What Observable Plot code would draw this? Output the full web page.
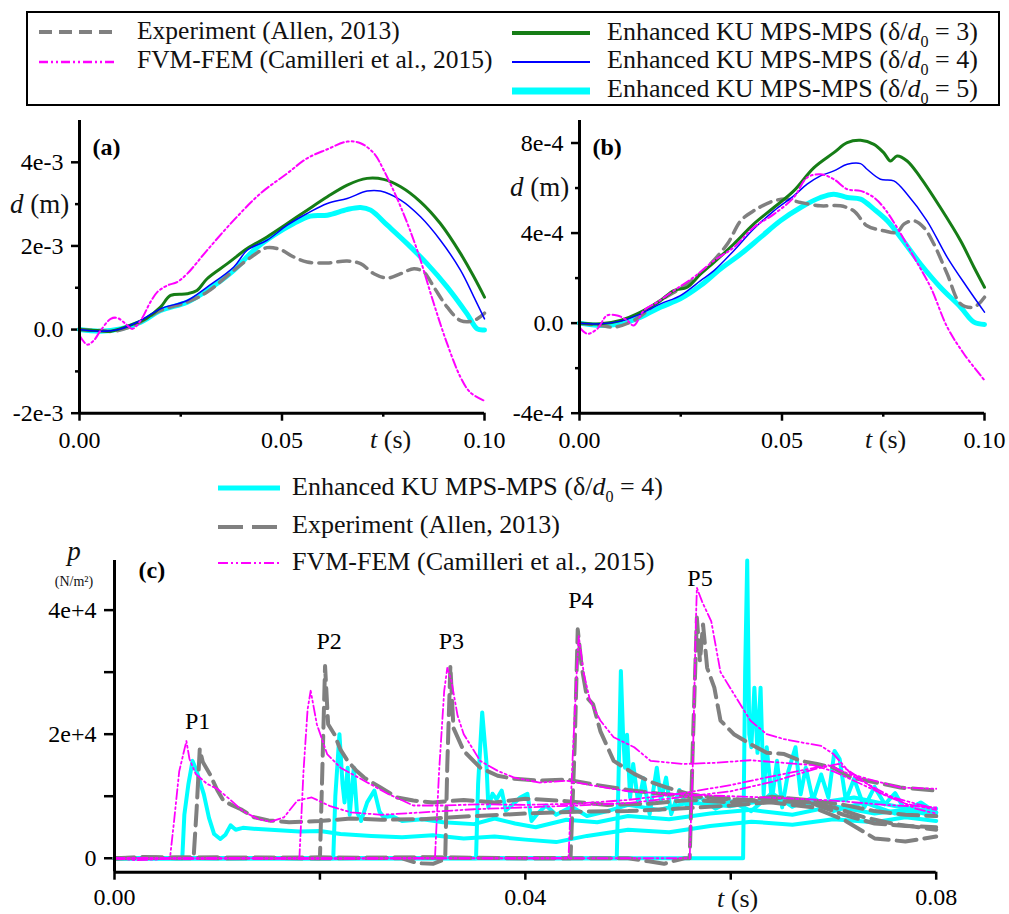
<!DOCTYPE html>
<html><head><meta charset="utf-8">
<script src="https://cdn.jsdelivr.net/npm/d3@7"></script>
<script src="https://cdn.jsdelivr.net/npm/@observablehq/plot@0.6"></script>
<style>
body{margin:0;background:#fff}
#root{position:relative;width:1009px;height:914px;overflow:hidden;background:#fff}
#root > svg{position:absolute}
</style></head><body><div id="root"></div>
<script>
// ---------- Panel (a): mid-span deflection d (m) vs t (s) ----------
const aExp = [[0,0],[0.0052,-0.000024],[0.0085,-0.00004],[0.0134,0.000096],[0.02,0.000456],[0.0266,0.000656],[0.0315,0.000896],[0.0381,0.001416],[0.043,0.001776],[0.0463,0.00196],[0.0496,0.001912],[0.0529,0.001736],[0.0562,0.001616],[0.0612,0.001592],[0.0661,0.00164],[0.0694,0.001576],[0.0727,0.001336],[0.076,0.001232],[0.0793,0.001336],[0.0826,0.001456],[0.085,0.001376],[0.0875,0.001016],[0.0908,0.000536],[0.0941,0.000216],[0.0974,0.000216],[0.1,0.000392]];
const aFvm = [[0,-0.000144],[0.0019,-0.00036],[0.0035,-0.000264],[0.0052,-0.000024],[0.0077,0.000256],[0.0093,0.00028],[0.0114,0.000136],[0.013,0.000016],[0.0151,0.000216],[0.0175,0.000656],[0.0192,0.000896],[0.0217,0.001056],[0.0241,0.001136],[0.0266,0.001336],[0.0315,0.001896],[0.0381,0.002616],[0.0447,0.003256],[0.0513,0.003736],[0.0562,0.004096],[0.0612,0.004312],[0.0661,0.004496],[0.0694,0.004456],[0.0727,0.004216],[0.0751,0.003816],[0.0793,0.002936],[0.0834,0.001896],[0.0875,0.000616],[0.0908,-0.000344],[0.0941,-0.001144],[0.0965,-0.001504],[0.1,-0.001704]];
const aKU3 = [[0,0],[0.0044,-0.000024],[0.0077,-0.00004],[0.0134,0.000136],[0.0167,0.00028],[0.02,0.000536],[0.0225,0.000816],[0.0266,0.000856],[0.029,0.000936],[0.0315,0.001216],[0.0365,0.001576],[0.0414,0.001936],[0.0463,0.002216],[0.0513,0.002536],[0.0562,0.002856],[0.0612,0.003176],[0.0661,0.003456],[0.071,0.003616],[0.0751,0.003592],[0.0793,0.003416],[0.0842,0.003056],[0.0891,0.002536],[0.0941,0.001816],[0.0974,0.001256],[0.1,0.000776]];
const aKU4 = [[0,0],[0.0052,-0.00004],[0.0101,0.000016],[0.0151,0.000216],[0.02,0.000496],[0.0266,0.000696],[0.0315,0.001016],[0.0381,0.001496],[0.0414,0.001896],[0.0463,0.002136],[0.0513,0.002496],[0.0562,0.002776],[0.0612,0.003016],[0.0661,0.003136],[0.071,0.003312],[0.0743,0.003312],[0.0793,0.003096],[0.0842,0.002696],[0.0891,0.002136],[0.0941,0.001416],[0.0974,0.000776],[0.1,0.000256]];
const aKU5 = [[0,0],[0.0052,-0.00004],[0.0101,0.000016],[0.0151,0.000176],[0.02,0.000456],[0.0266,0.000656],[0.0315,0.000936],[0.0381,0.001416],[0.043,0.001896],[0.048,0.002256],[0.0529,0.002536],[0.057,0.002712],[0.0612,0.002736],[0.0661,0.002872],[0.0694,0.00292],[0.0719,0.002856],[0.076,0.002496],[0.0809,0.002056],[0.0858,0.001576],[0.0908,0.001016],[0.0957,0.000376],[0.0982,0.000016],[0.1,-0.000008]];

// ---------- Panel (b) ----------
const bExp = [[0,0],[0.0052,-0.0000103],[0.0085,-0.0000177],[0.0134,0.0000118],[0.02,0.0001004],[0.0266,0.0001742],[0.0315,0.000248],[0.0365,0.0003513],[0.0398,0.0004546],[0.043,0.0004989],[0.048,0.0005432],[0.0513,0.0005505],[0.0546,0.0005358],[0.0595,0.000521],[0.0644,0.000521],[0.0677,0.0004989],[0.071,0.0004325],[0.0751,0.0004103],[0.0784,0.000403],[0.0801,0.0004398],[0.0826,0.0004546],[0.085,0.0004251],[0.0875,0.0003513],[0.0908,0.0002184],[0.0941,0.0000856],[0.0974,0.0000708],[0.1,0.0001151]];
const bFvm = [[0,-0.0000177],[0.0019,-0.0000472],[0.0044,-0.0000251],[0.0068,0.000034],[0.0093,0.000034],[0.0118,0.0000118],[0.0134,-0.0000103],[0.0159,0.0000561],[0.0192,0.000093],[0.0233,0.0001446],[0.0282,0.0002037],[0.0332,0.0002775],[0.0381,0.0003365],[0.043,0.0004251],[0.048,0.0004841],[0.0529,0.0005579],[0.0562,0.0006465],[0.0595,0.0006612],[0.0628,0.0006391],[0.0661,0.0005948],[0.0694,0.0005874],[0.0727,0.0005579],[0.0751,0.0005136],[0.0784,0.0004251],[0.0826,0.0002922],[0.0867,0.0001594],[0.0908,-0.0000177],[0.0949,-0.0001358],[0.1,-0.0002539]];
const bKU3 = [[0,0],[0.0052,-0.000003],[0.0101,0.0000118],[0.0151,0.0000487],[0.02,0.0001004],[0.0233,0.0001446],[0.0266,0.0001594],[0.0299,0.0002184],[0.0332,0.0002701],[0.0381,0.0003513],[0.043,0.0004398],[0.048,0.0005136],[0.0529,0.0005874],[0.0579,0.0006908],[0.0628,0.0007572],[0.0661,0.0008015],[0.0694,0.0008118],[0.0727,0.0007941],[0.0751,0.0007572],[0.0768,0.0007203],[0.0784,0.0007424],[0.0809,0.0007203],[0.0842,0.0006465],[0.0891,0.0005136],[0.0941,0.000366],[0.0974,0.000248],[0.1,0.0001594]];
const bKU4 = [[0,0],[0.0052,-0.000003],[0.0101,0.0000089],[0.0151,0.0000413],[0.02,0.0000856],[0.0249,0.0001225],[0.0299,0.0001889],[0.0332,0.0002332],[0.0381,0.0003218],[0.043,0.0004177],[0.048,0.0004989],[0.0529,0.0005653],[0.0562,0.000617],[0.0595,0.0006539],[0.0628,0.000676],[0.0661,0.0007055],[0.0694,0.0007085],[0.071,0.0006834],[0.0743,0.0006391],[0.0776,0.0006317],[0.0809,0.0005727],[0.0858,0.0004546],[0.0908,0.0002922],[0.0957,0.0001594],[0.1,0.0000487]];
const bKU5 = [[0,0],[0.0052,-0.0000103],[0.0101,-0.000003],[0.0151,0.0000266],[0.02,0.0000708],[0.0249,0.0001077],[0.0299,0.0001668],[0.0348,0.0002406],[0.0398,0.000307],[0.0447,0.0003808],[0.0496,0.0004546],[0.0546,0.0005136],[0.0595,0.0005579],[0.0628,0.0005727],[0.0661,0.0005579],[0.0694,0.0005505],[0.0727,0.0005063],[0.076,0.0004546],[0.0793,0.0003808],[0.0842,0.0002627],[0.0891,0.0001594],[0.0941,0.0000708],[0.0974,0.0000044],[0.1,-0.0000059]];

// ---------- Panel (c): pressure p (N/m2) at sensors P1..P5 ----------
const cKU_P1 = [[0,0],[0.0066,0],[0.0068,7000],[0.0072,12000],[0.0076,15700],[0.008,14000],[0.0087,10300],[0.0092,6500],[0.0097,3900],[0.0103,3100],[0.0108,3800],[0.0113,5300],[0.0118,4600],[0.0125,4900],[0.014,4700],[0.016,4500],[0.018,4300],[0.02,4400],[0.022,3900],[0.025,3600],[0.028,3400],[0.031,3700],[0.034,3200],[0.037,3500],[0.04,3000],[0.043,2600],[0.046,3600],[0.05,4600],[0.054,4200],[0.058,5200],[0.062,5900],[0.066,5400],[0.07,6300],[0.074,5800],[0.077,6600],[0.08,6000]];
const cKU_P2 = [[0,0],[0.0213,0],[0.0215,10000],[0.0219,20000],[0.0222,12000],[0.0224,9000],[0.0227,14600],[0.0229,7000],[0.0233,14600],[0.0236,7500],[0.024,6000],[0.0246,9000],[0.0253,10900],[0.0258,7500],[0.0262,6600],[0.027,6800],[0.028,6000],[0.03,6300],[0.032,5800],[0.035,5500],[0.037,6400],[0.039,5600],[0.041,5000],[0.044,6200],[0.047,5800],[0.05,6800],[0.054,6300],[0.058,7200],[0.062,7800],[0.066,7000],[0.07,8400],[0.074,7200],[0.077,7800],[0.08,6800]];
const cKU_P3 = [[0,0],[0.0352,0],[0.0354,12000],[0.0358,23500],[0.0362,15700],[0.0364,8200],[0.0368,10400],[0.0372,9500],[0.0377,10900],[0.0381,7700],[0.0388,8700],[0.0395,9800],[0.0402,10400],[0.0406,6000],[0.0412,7200],[0.042,8500],[0.043,7000],[0.0445,8300],[0.046,6800],[0.048,7600],[0.05,8600],[0.053,7800],[0.056,9000],[0.06,8400],[0.064,9500],[0.068,8800],[0.072,9800],[0.076,8400],[0.08,7400]];
const cKU_P4 = [[0,0],[0.0489,0],[0.0491,15000],[0.0493,30200],[0.0495,20500],[0.0497,14600],[0.0499,19900],[0.0502,9800],[0.0505,15200],[0.051,8700],[0.0515,12900],[0.0521,7100],[0.0528,14600],[0.0532,9300],[0.0537,13000],[0.0542,7100],[0.055,11000],[0.0558,8200],[0.057,9800],[0.0585,8000],[0.06,9200],[0.062,7600],[0.064,10500],[0.066,8300],[0.068,9800],[0.07,7600],[0.073,9000],[0.076,7200],[0.08,8000]];
const cKU_P5 = [[0,0],[0.0612,0],[0.0614,30000],[0.0616,48000],[0.0618,20000],[0.062,17900],[0.0623,27500],[0.0626,17000],[0.0629,27500],[0.0632,10300],[0.0635,17900],[0.064,9300],[0.0645,15700],[0.065,8200],[0.0656,14000],[0.0663,17900],[0.0668,10300],[0.0673,14600],[0.068,9300],[0.0688,13500],[0.0695,9800],[0.0701,17300],[0.0706,16000],[0.0712,9300],[0.072,12800],[0.073,8200],[0.074,11500],[0.075,8700],[0.076,10500],[0.077,7600],[0.0785,9000],[0.08,7300]];

const cExp_P1 = [[0,0],[0.003,200],[0.006,0],[0.0077,0],[0.008,8000],[0.0083,17600],[0.0086,15500],[0.0093,13500],[0.01,11000],[0.0106,9300],[0.0115,8500],[0.0123,7900],[0.0136,6600],[0.015,6100],[0.017,5800],[0.02,6000],[0.023,6400],[0.026,6200],[0.03,6300],[0.035,6800],[0.04,7200],[0.045,7500],[0.05,7600],[0.055,8000],[0.06,8500],[0.065,9200],[0.068,8800],[0.071,7000],[0.074,5600],[0.077,5200],[0.08,5000]];
const cExp_P2 = [[0,0],[0.004,150],[0.01,0],[0.016,100],[0.02,0],[0.0202,12000],[0.0205,31000],[0.0208,21600],[0.0214,20000],[0.022,17500],[0.0227,15700],[0.0235,14200],[0.0243,13000],[0.0259,11400],[0.0275,9800],[0.0291,9300],[0.031,9000],[0.034,9400],[0.037,9000],[0.04,9600],[0.044,9200],[0.048,8600],[0.052,8800],[0.056,9400],[0.06,9000],[0.064,9900],[0.068,9300],[0.071,8600],[0.074,7600],[0.077,7000],[0.08,6800]];
const cExp_P3 = [[0,0],[0.006,100],[0.012,0],[0.02,150],[0.028,0],[0.0295,-800],[0.031,-900],[0.0318,-400],[0.0322,0],[0.0324,15000],[0.0327,31000],[0.033,21000],[0.034,17300],[0.0356,14600],[0.0373,13300],[0.0389,12800],[0.0414,12500],[0.044,12700],[0.047,11800],[0.05,11000],[0.053,10400],[0.056,10000],[0.06,9600],[0.064,9000],[0.068,8200],[0.071,6200],[0.074,3200],[0.077,2700],[0.08,3500]];
const cExp_P4 = [[0,0],[0.01,100],[0.02,0],[0.03,150],[0.04,0],[0.0444,0],[0.0448,18000],[0.0451,36900],[0.0455,30700],[0.046,25900],[0.0466,24800],[0.0473,20500],[0.0486,15700],[0.0506,13600],[0.0522,12300],[0.0538,11400],[0.0558,10400],[0.0587,9600],[0.062,9300],[0.065,9800],[0.068,8900],[0.07,8200],[0.073,6600],[0.076,5500],[0.08,4600]];
const cExp_P5 = [[0,0],[0.01,100],[0.02,0],[0.03,100],[0.04,0],[0.05,0],[0.052,-500],[0.0535,-900],[0.0545,-400],[0.0555,0],[0.056,0],[0.0563,18000],[0.0567,38800],[0.057,31800],[0.0573,37700],[0.0577,30700],[0.0584,27500],[0.059,22200],[0.0603,20000],[0.0619,18400],[0.0635,17000],[0.0652,16800],[0.0668,15700],[0.0684,15200],[0.07,14600],[0.0717,13000],[0.0733,12500],[0.0765,11400],[0.08,10900]];

const cFvm_P1 = [[0,0],[0.002,-300],[0.004,-200],[0.0054,0],[0.0058,6000],[0.0063,14000],[0.007,18900],[0.0073,16000],[0.0079,13600],[0.009,12000],[0.01,11200],[0.0113,9400],[0.0125,7600],[0.014,6300],[0.0152,5900],[0.0165,6600],[0.0178,9300],[0.0192,9800],[0.021,8400],[0.023,7400],[0.026,7000],[0.03,7400],[0.035,7900],[0.04,8200],[0.045,8500],[0.05,8900],[0.055,9800],[0.06,10800],[0.064,12300],[0.068,14300],[0.0705,15200],[0.0725,13000],[0.0745,10500],[0.077,8800],[0.08,7800]];
const cFvm_P2 = [[0,0],[0.008,-100],[0.012,0],[0.018,0],[0.0184,14000],[0.0188,24000],[0.0191,27000],[0.0197,21600],[0.0207,16800],[0.022,14600],[0.0243,12500],[0.0266,10400],[0.0291,8500],[0.032,8500],[0.0356,8700],[0.04,8600],[0.045,8800],[0.05,9400],[0.055,10400],[0.06,11800],[0.064,13200],[0.067,14200],[0.0695,15000],[0.0715,13600],[0.0735,11800],[0.076,9600],[0.078,8000],[0.08,7200]];
const cFvm_P3 = [[0,0],[0.01,0],[0.02,-100],[0.03,0],[0.0312,0],[0.0316,14000],[0.0321,27000],[0.0324,30700],[0.0328,28600],[0.0334,23000],[0.034,20000],[0.0356,15700],[0.0373,14100],[0.0389,13000],[0.0414,12200],[0.044,12500],[0.047,11600],[0.05,10800],[0.055,10300],[0.06,10000],[0.065,9700],[0.07,9300],[0.075,8600],[0.08,8200]];
const cFvm_P4 = [[0,0],[0.02,0],[0.04,0],[0.0442,0],[0.0446,16000],[0.045,30000],[0.0452,35800],[0.0457,29700],[0.0463,25400],[0.0473,22200],[0.0486,19500],[0.0506,17900],[0.0522,15700],[0.0554,15200],[0.0587,15400],[0.0619,15800],[0.065,15400],[0.068,15000],[0.07,14000],[0.072,12500],[0.075,10200],[0.078,8800],[0.08,8000]];
const cFvm_P5 = [[0,0],[0.02,0],[0.04,0],[0.056,0],[0.0563,15000],[0.0566,38000],[0.0567,43600],[0.0572,41400],[0.0581,38200],[0.059,30000],[0.0603,26500],[0.0619,22200],[0.0635,20000],[0.0652,19200],[0.0668,18700],[0.0688,18100],[0.07,16800],[0.0717,13600],[0.0733,12800],[0.0765,11400],[0.08,11200]];

// ---------- ticks & labels ----------
const abXTicks = [0, 0.05, 0.1];
const abXLabels = ["0.00", "0.05", "0.10"];
const abXMinor = [0.025, 0.075];
const aYTicks = [-0.002, 0, 0.002, 0.004];
const aYLabels = ["-2e-3", "0.0", "2e-3", "4e-3"];
const aYMinor = [-0.001, 0.001, 0.003];
const bYTicks = [-0.0004, 0, 0.0004, 0.0008];
const bYLabels = ["-4e-4", "0.0", "4e-4", "8e-4"];
const bYMinor = [-0.0002, 0.0002, 0.0006];
const cXTicks = [0, 0.04, 0.08];
const cXLabels = ["0.00", "0.04", "0.08"];
const cXMinor = [0.02, 0.06];
const cYTicks = [0, 20000, 40000];
const cYLabels = ["0", "2e+4", "4e+4"];
const cYMinor = [10000, 30000];
const peakNames = ["P1", "P2", "P3", "P4", "P5"];
const peakT = [0.0081, 0.0209, 0.0328, 0.0454, 0.057];
const peakP = [22150, 35000, 35000, 41600, 45200];

const legendExp = "Experiment (Allen, 2013)";
const legendFvm = "FVM-FEM (Camilleri et al., 2015)";
const legendKU = "Enhanced KU MPS-MPS (δ/";
const kuRatios = ["3", "4", "5"];

// ---------- styles ----------
const serif = '"Liberation Serif","Times New Roman",serif';
const C = {exp:"#808080", fvm:"#ff00ff", ku3:"#167d16", ku4:"#0000ff", ku5:"#00ffff"};
const rows = a => a.map(([t, v]) => ({t, v}));
const fmt = (ticks, labels) => { const m = new Map(ticks.map((t, i) => [t, labels[i]])); return d => m.get(d) ?? ""; };

const root = document.getElementById("root");
function place(el, left, top) { el.style.left = left + "px"; el.style.top = top + "px"; root.appendChild(el); }

function axisMarks(xT, xL, xM, yT, yL, yM, xMaj, xMin, yMaj, yMin, xPad, yPad) {
  return [
    Plot.axisX({ticks: xT, tickFormat: fmt(xT, xL), tickSize: xMaj, tickPadding: xPad, strokeWidth: 2.5, fontSize: 24, label: null}),
    Plot.axisX({ticks: xM, tickFormat: () => "", tickSize: xMin, strokeWidth: 2.5, label: null}),
    Plot.axisY({ticks: yT, tickFormat: fmt(yT, yL), tickSize: yMaj, tickPadding: yPad, strokeWidth: 2.5, fontSize: 24, label: null}),
    Plot.axisY({ticks: yM, tickFormat: () => "", tickSize: yMin, strokeWidth: 2.5, label: null})
  ];
}

function dPanel(series, yDomain, yT, yL, yM, tag, width, marginRight) {
  const [exp, fvm, k3, k4, k5] = series;
  return Plot.plot({
    width, height: 360, marginLeft: 79, marginRight, marginTop: 10, marginBottom: 57.3,
    x: {domain: [0, 0.1]}, y: {domain: yDomain},
    style: {fontFamily: serif, fontSize: "24px", color: "black", background: "transparent", overflow: "visible"},
    marks: [
      ...axisMarks(abXTicks, abXLabels, abXMinor, yT, yL, yM, 8, 4, 8, 4, 10, 8),
      Plot.line(rows(k5), {x: "t", y: "v", stroke: C.ku5, strokeWidth: 5, curve: "catmull-rom"}),
      Plot.line(rows(exp), {x: "t", y: "v", stroke: C.exp, strokeWidth: 3.5, strokeDasharray: "12,7", curve: "catmull-rom"}),
      Plot.line(rows(k3), {x: "t", y: "v", stroke: C.ku3, strokeWidth: 3, curve: "catmull-rom"}),
      Plot.line(rows(k4), {x: "t", y: "v", stroke: C.ku4, strokeWidth: 1.5, curve: "catmull-rom"}),
      Plot.line(rows(fvm), {x: "t", y: "v", stroke: C.fvm, strokeWidth: 2, strokeDasharray: "9,3,2,3,2,3", curve: "catmull-rom"}),
      Plot.ruleX([0], {strokeWidth: 3}),
      Plot.ruleY([yDomain[0]], {strokeWidth: 3}),
      Plot.text([tag], {frameAnchor: "top-left", dx: 13, dy: 27, textAnchor: "start", lineAnchor: "middle", fontWeight: "bold", fontSize: 24, fill: "black"})
    ]
  });
}

place(dPanel([aExp, aFvm, aKU3, aKU4, aKU5], [-0.002, 0.005], aYTicks, aYLabels, aYMinor, "(a)", 500, 16), 0, 110);
place(dPanel([bExp, bFvm, bKU3, bKU4, bKU5], [-0.0004, 0.0009], bYTicks, bYLabels, bYMinor, "(b)", 509, 25), 500, 110);

const ku = [cKU_P1, cKU_P2, cKU_P3, cKU_P4, cKU_P5];
const ex = [cExp_P1, cExp_P2, cExp_P3, cExp_P4, cExp_P5];
const fv = [cFvm_P1, cFvm_P2, cFvm_P3, cFvm_P4, cFvm_P5];
const plotC = Plot.plot({
  width: 1009, height: 364, marginLeft: 114, marginRight: 73.3, marginTop: 10, marginBottom: 42.3,
  x: {domain: [0, 0.08]}, y: {domain: [-2250, 48000]},
  style: {fontFamily: serif, fontSize: "24px", color: "black", background: "transparent", overflow: "visible"},
  marks: [
    ...axisMarks(cXTicks, cXLabels, cXMinor, cYTicks, cYLabels, cYMinor, 8, 8, 10, 10, 8, 8),
    ...ku.map(s => Plot.line(rows(s), {x: "t", y: "v", stroke: C.ku5, strokeWidth: 4})),
    ...ex.map(s => Plot.line(rows(s), {x: "t", y: "v", stroke: C.exp, strokeWidth: 4, strokeDasharray: "20,8"})),
    ...fv.map(s => Plot.line(rows(s), {x: "t", y: "v", stroke: C.fvm, strokeWidth: 1.8, strokeDasharray: "10,3,2,3,2,3"})),
    Plot.ruleX([0], {strokeWidth: 3}),
    Plot.ruleY([-2250], {strokeWidth: 3}),
    Plot.text(peakNames, {x: (d, i) => peakT[i], y: (d, i) => peakP[i], text: d => d, fontSize: 24, fill: "black", lineAnchor: "middle"}),
    Plot.text(["(c)"], {frameAnchor: "top-left", dx: 24, dy: 10, textAnchor: "start", lineAnchor: "middle", fontWeight: "bold", fontSize: 24, fill: "black"})
  ]
});
place(plotC, 0, 550);

// ---------- overlay: legends and axis titles ----------
const NS = "http://www.w3.org/2000/svg";
const ov = document.createElementNS(NS, "svg");
ov.setAttribute("width", 1009); ov.setAttribute("height", 914);
place(ov, 0, 0);
function el(tag, attrs) { const e = document.createElementNS(NS, tag); for (const k in attrs) e.setAttribute(k, attrs[k]); ov.appendChild(e); return e; }
function txt(x, y, parts, size, anchor = "start") {
  const t = el("text", {x, y, "font-size": size, "font-family": serif, "text-anchor": anchor, fill: "#111"});
  let shift = 0;
  for (const p of parts) {
    const s = document.createElementNS(NS, "tspan");
    const o = typeof p === "string" ? {s: p} : p;
    s.textContent = o.s;
    if (o.i) s.setAttribute("font-style", "italic");
    const want = o.sub ? size * 0.25 : 0;
    if (want !== shift) { s.setAttribute("dy", want - shift); shift = want; }
    if (o.sub) s.setAttribute("font-size", size * 0.62);
    t.appendChild(s);
  }
  return t;
}
const kuParts = r => [legendKU, {s: "d", i: true}, {s: "0", sub: true}, " = " + r + ")"];

// top legend
el("rect", {x: 27, y: 12, width: 972, height: 93, fill: "none", stroke: "black", "stroke-width": 2});
el("line", {x1: 39, x2: 117, y1: 32, y2: 32, stroke: C.exp, "stroke-width": 4, "stroke-dasharray": "13,7"});
txt(137, 39, [legendExp], 25.5);
el("line", {x1: 39, x2: 117, y1: 62, y2: 62, stroke: C.fvm, "stroke-width": 2.5, "stroke-dasharray": "9,3,2,3,2,3"});
txt(137, 68, [legendFvm], 25.5);
el("line", {x1: 512, x2: 590, y1: 33, y2: 33, stroke: C.ku3, "stroke-width": 4});
txt(607, 40, kuParts(kuRatios[0]), 26);
el("line", {x1: 512, x2: 590, y1: 62, y2: 62, stroke: C.ku4, "stroke-width": 2});
txt(607, 68, kuParts(kuRatios[1]), 26);
el("line", {x1: 512, x2: 590, y1: 91, y2: 91, stroke: C.ku5, "stroke-width": 7});
txt(607, 97, kuParts(kuRatios[2]), 26);

// panel (c) legend
el("line", {x1: 218, x2: 280, y1: 488, y2: 488, stroke: C.ku5, "stroke-width": 5});
txt(292, 495, kuParts(kuRatios[1]), 26);
el("line", {x1: 218, x2: 280, y1: 527, y2: 527, stroke: C.exp, "stroke-width": 4, "stroke-dasharray": "25,9"});
txt(292, 533, [legendExp], 26);
el("line", {x1: 218, x2: 280, y1: 563, y2: 563, stroke: C.fvm, "stroke-width": 2, "stroke-dasharray": "10,3,2,3,2,3"});
txt(292, 570, [legendFvm], 26);

// axis titles
txt(10, 213, [{s: "d", i: true}, " (m)"], 27);
txt(510, 196, [{s: "d", i: true}, " (m)"], 27);
txt(370, 448, [{s: "t", i: true}, " (s)"], 26);
txt(865, 448, [{s: "t", i: true}, " (s)"], 26);
txt(717, 907, [{s: "t", i: true}, " (s)"], 26);
txt(74, 560, [{s: "p", i: true}], 27, "middle");
txt(74, 586, ["(N/m²)"], 14, "middle");
</script></body></html>
